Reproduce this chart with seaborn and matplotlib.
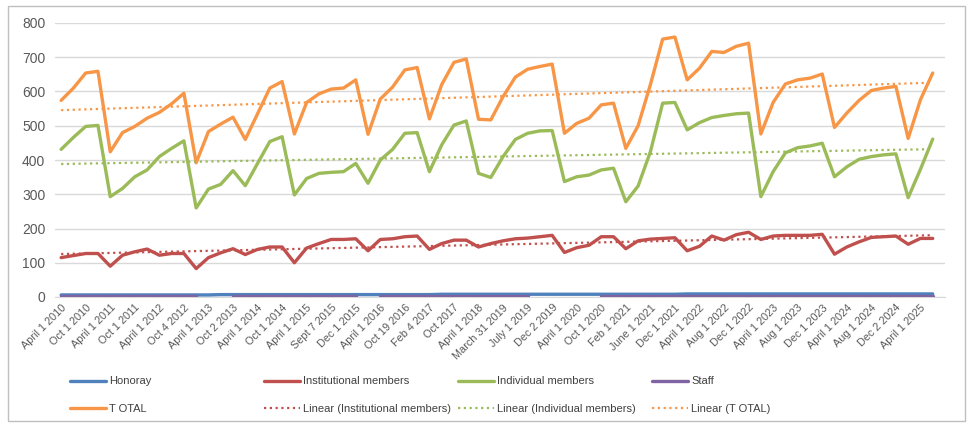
import numpy as np
import pandas as pd
import matplotlib.pyplot as plt
from matplotlib.patches import Rectangle
import seaborn as sns

# tick labels (every second data point carries a label)
tick_labels = ['April 1 2010', 'Oct 1 2010', 'April 1 2011', 'Oct 1 2011', 'April 1 2012',
               'Oct 4 2012', 'April 1 2013', 'Oct 2 2013', 'April 1 2014', 'Oct 1 2014',
               'April 1 2015', 'Sept 7 2015', 'Dec 1 2015', 'April 1 2016', 'Oct 19 2016',
               'Feb 4 2017', 'Oct 2017', 'April 1 2018', 'March 31 2019', 'July 1 2019',
               'Dec 2 2019', 'April 1 2020', 'Oct 1 2020', 'Feb 1 2021', 'June 1 2021',
               'Dec 1 2021', 'April 1 2022', 'Aug 1 2022', 'Dec 1 2022', 'April 1 2023',
               'Aug 1 2023', 'Dec 1 2023', 'April 1 2024', 'Aug 1 2024', 'Dec 2 2024',
               'April 1 2025']

total = [574, 610, 654, 659, 424, 480, 498, 522, 539, 564, 595, 392, 483, 505, 525, 460,
         535, 610, 629, 476, 568, 593, 607, 610, 634, 475, 578, 613, 663, 670, 520, 620,
         685, 695, 519, 517, 585, 642, 665, 673, 680, 478, 507, 522, 561, 566, 434, 500,
         620, 753, 759, 634, 668, 717, 714, 732, 741, 476, 568, 622, 634, 639, 651, 495,
         537, 574, 603, 610, 615, 463, 576, 654]

individual = [431, 466, 498, 501, 293, 317, 351, 371, 410, 434, 456, 260, 315, 329, 369, 325,
              390, 454, 468, 298, 346, 361, 364, 366, 390, 332, 400, 431, 478, 480, 366, 444,
              502, 514, 361, 349, 410, 460, 478, 485, 486, 337, 351, 356, 371, 376, 278, 324,
              424, 566, 568, 488, 509, 524, 530, 535, 537, 293, 366, 421, 436, 441, 449, 351,
              380, 402, 410, 415, 418, 290, 373, 461]

institutional = [115, 121, 127, 127, 90, 122, 132, 140, 122, 127, 127, 83, 115, 129, 141, 124,
                 139, 146, 146, 100, 143, 156, 168, 168, 170, 135, 168, 170, 176, 178, 139, 156,
                 166, 166, 146, 156, 164, 170, 172, 176, 180, 130, 144, 151, 176, 176, 141, 164,
                 169, 171, 173, 135, 148, 178, 166, 182, 189, 168, 178, 180, 180, 180, 183, 125,
                 146, 161, 174, 176, 178, 154, 171, 171]

honoray = [6] * 13 + [7] * 18 + [8] * 20 + [9] * 21

staff = [3] * 12 + [None, None] + [3] * 11 + [None] + [3] * 13 + [None] * 5 + [3] * 28

colors = {'Honoray': '#4F81BD', 'Institutional members': '#C0504D',
          'Individual members': '#9BBB59', 'Staff': '#8064A2', 'T OTAL': '#F79646'}

x = np.arange(len(total))
df = pd.DataFrame({'x': x, 'Honoray': honoray, 'Institutional members': institutional,
                   'Individual members': individual, 'Staff': staff, 'T OTAL': total})
df = df.astype(float)

sns.set_style('white')
plt.rcParams['font.family'] = ['Liberation Sans', 'DejaVu Sans']

fig = plt.figure(figsize=(9.72, 4.24), dpi=100)
ax = fig.add_axes([55 / 972, 1 - 297 / 424, 890 / 972, 274 / 424])

handles = {}
for name in ['Honoray', 'Institutional members', 'Individual members', 'Staff', 'T OTAL']:
    if name == 'Staff':
        # plain plot keeps the gaps where staff is missing
        ln, = ax.plot(df['x'], df[name], color=colors[name], lw=2.4, zorder=3)
    else:
        sns.lineplot(data=df, x='x', y=name, ax=ax, color=colors[name], lw=2.4,
                     legend=False)
        ln = ax.lines[-1]
    handles[name] = ln

# linear trend lines like the spreadsheet's
for name in ['Institutional members', 'Individual members', 'T OTAL']:
    k, b = np.polyfit(x, df[name], 1)
    ln, = ax.plot(x, k * x + b, color=colors[name], lw=1.6, ls=(0, (1, 1.6)))
    handles['Linear (' + name + ')'] = ln

ax.set_xlim(-0.5, 72)
ax.set_ylim(0, 800)
ax.set_yticks(range(0, 801, 100))
ax.yaxis.grid(True, color='#D9D9D9', lw=1)
ax.set_xticks(x[::2])
ax.set_xticklabels(tick_labels, rotation=45, ha='right', rotation_mode='anchor',
                   fontsize=7.8, color='#595959')
ax.tick_params(axis='y', labelsize=10, colors='#595959', length=0, pad=7)
ax.tick_params(axis='x', length=0, pad=4)
ax.set_xlabel('')
ax.set_ylabel('')
for s in ['top', 'right', 'left']:
    ax.spines[s].set_visible(False)
ax.spines['bottom'].set_color('#D9D9D9')
ax.spines['bottom'].set_zorder(1)

# legend in 4 evenly spaced columns, two rows each
columns = [['Honoray', 'T OTAL'],
           ['Institutional members', 'Linear (Institutional members)'],
           ['Individual members', 'Linear (Individual members)'],
           ['Staff', 'Linear (T OTAL)']]
for j, col in enumerate(columns):
    fig.legend([handles[k] for k in col], col, loc='upper left',
               bbox_to_anchor=((66 + 194 * j) / 972, 1 - 372 / 424), frameon=False,
               fontsize=8, handlelength=3.2, handletextpad=0.3, labelspacing=1.55,
               borderaxespad=0, labelcolor='#404040')

fig.patches.append(Rectangle((8 / 972, 3 / 424), 957 / 972, 415 / 424, fill=False,
                             edgecolor='#BFBFBF', lw=1, transform=fig.transFigure))

fig.savefig('out.png', dpi=100)
